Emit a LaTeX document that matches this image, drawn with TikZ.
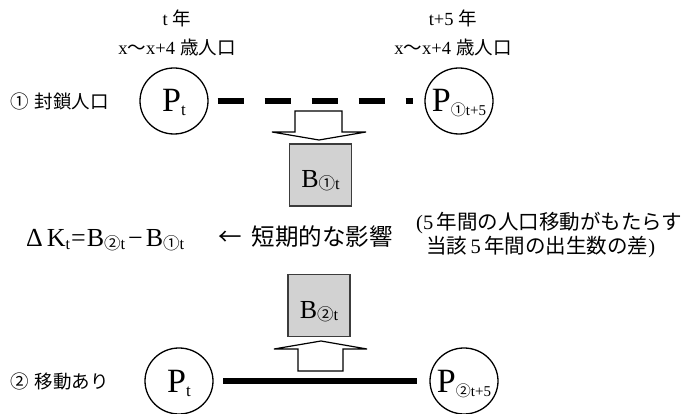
\documentclass[tikz,border=0pt]{standalone}
\usepackage{fontspec}
\setmainfont{Liberation Serif}
\newfontfamily\cjk{Noto Sans CJK JP}
\usetikzlibrary{shapes.geometric}
\definecolor{boxgray}{RGB}{210,210,210}
\definecolor{boxline}{RGB}{60,60,60}
\newcommand{\zwbox}[1]{\makebox[0pt]{#1}}
% lowered subscript: #1 drop, #2 size, #3 text
\newcommand{\lsub}[3]{\raisebox{-#1}{\fontsize{#2}{#2}\selectfont #3}}
\begin{document}
\begin{tikzpicture}[x=1pt,y=-1pt,
  pop/.style={ellipse, draw, line width=1.3pt, minimum width=68pt, minimum height=66pt,
    inner sep=0pt, font=\fontsize{34}{36}\selectfont, text height=24pt, text depth=2pt},
  bbox/.style={rectangle, draw=boxline, fill=boxgray, line width=1.4pt,
    minimum width=62pt, minimum height=62pt, inner sep=0pt,
    font=\fontsize{26}{28}\selectfont, text height=26pt, text depth=0pt},
  lab/.style={inner sep=0pt, font=\fontsize{18.5}{29}\selectfont, align=center},
  side/.style={inner sep=0pt, anchor=west, font=\fontsize{18.5}{20}\selectfont},
  blockarrow/.style={draw, fill=white, line width=1.2pt, line join=miter},
  dashline/.style={line width=6.7pt, dash pattern=on 26.7pt off 20.3pt},
  solidline/.style={line width=6.7pt},
]
\useasboundingbox (0,0) rectangle (683,414);

% header labels
\node[lab] (h1) at (177,32.5) {t\hspace{5pt}{\cjk 年}\\x{\cjk 〜}x+4\hspace{5pt}{\cjk 歳人口}};
\node[lab] (h2) at (453,32.5) {t+5\hspace{5pt}{\cjk 年}\\x{\cjk 〜}x+4\hspace{5pt}{\cjk 歳人口}};

% row 1: closed population
\node[side] (r1) at (10,101) {{\cjk ①}\hspace{6pt}{\cjk 封鎖人口}};
\node[pop] (p1) at (174,101) {\zwbox{P\lsub{4pt}{17}{t}}};
\node[pop] (p2) at (459,101) {\zwbox{P\lsub{4pt}{15}{{\cjk ①}t+5}}};
\draw[dashline, shorten <=8.85pt, shorten >=11.35pt] (p1) -- (p2);

\draw[blockarrow] (295,111) -- (342,111) -- (342,132) -- (366,132) -- (319,140)
  -- (272,132) -- (295,132) -- cycle;
\node[bbox] (b1) at (320.5,175) {B\lsub{2pt}{16.5}{{\cjk ①}t}};

% middle row
\node[anchor=base west, inner sep=0pt, font=\fontsize{26}{28}\selectfont] (f) at (26,246.5)
  {Δ\hspace{4pt}K\lsub{3pt}{16}{t}\hspace{1pt}=\hspace{1pt}B\lsub{3pt}{16.5}{{\cjk ②}t}\hspace{3pt}−\hspace{3pt}B\lsub{3pt}{16.5}{{\cjk ①}t}};
\node[anchor=base west, inner sep=0pt, font=\fontsize{23.5}{26}\selectfont] (s) at (218,245.5)
  {{\cjk ←}\hspace{10pt}{\cjk 短期的な影響}};
\node[anchor=base west, inner sep=0pt, font=\fontsize{20.5}{24}\selectfont] (n1) at (416,230)
  {(5\,{\cjk 年間の人口移動がもたらす}};
\node[anchor=base west, inner sep=0pt, font=\fontsize{20.5}{24}\selectfont] (n2) at (426,253.5)
  {{\cjk 当該}\,5\,{\cjk 年間の出生数の差})};

% row 2: with migration
\node[bbox] (b2) at (319,305.5) {B\lsub{2pt}{16.5}{{\cjk ②}t}};
\draw[blockarrow] (298,371) -- (343,371) -- (343,349) -- (367,349) -- (321,341)
  -- (274,349) -- (298,349) -- cycle;

\node[side] (r2) at (10,381) {{\cjk ②}\hspace{6pt}{\cjk 移動あり}};
\node[pop] (q1) at (179,381) {\zwbox{P\lsub{4pt}{17}{t}}};
\node[pop] (q2) at (464,381) {\zwbox{P\lsub{4pt}{15}{{\cjk ②}t+5}}};
\draw[solidline, shorten <=9.65pt, shorten >=12.65pt] (q1) -- (q2);
\end{tikzpicture}
\end{document}
